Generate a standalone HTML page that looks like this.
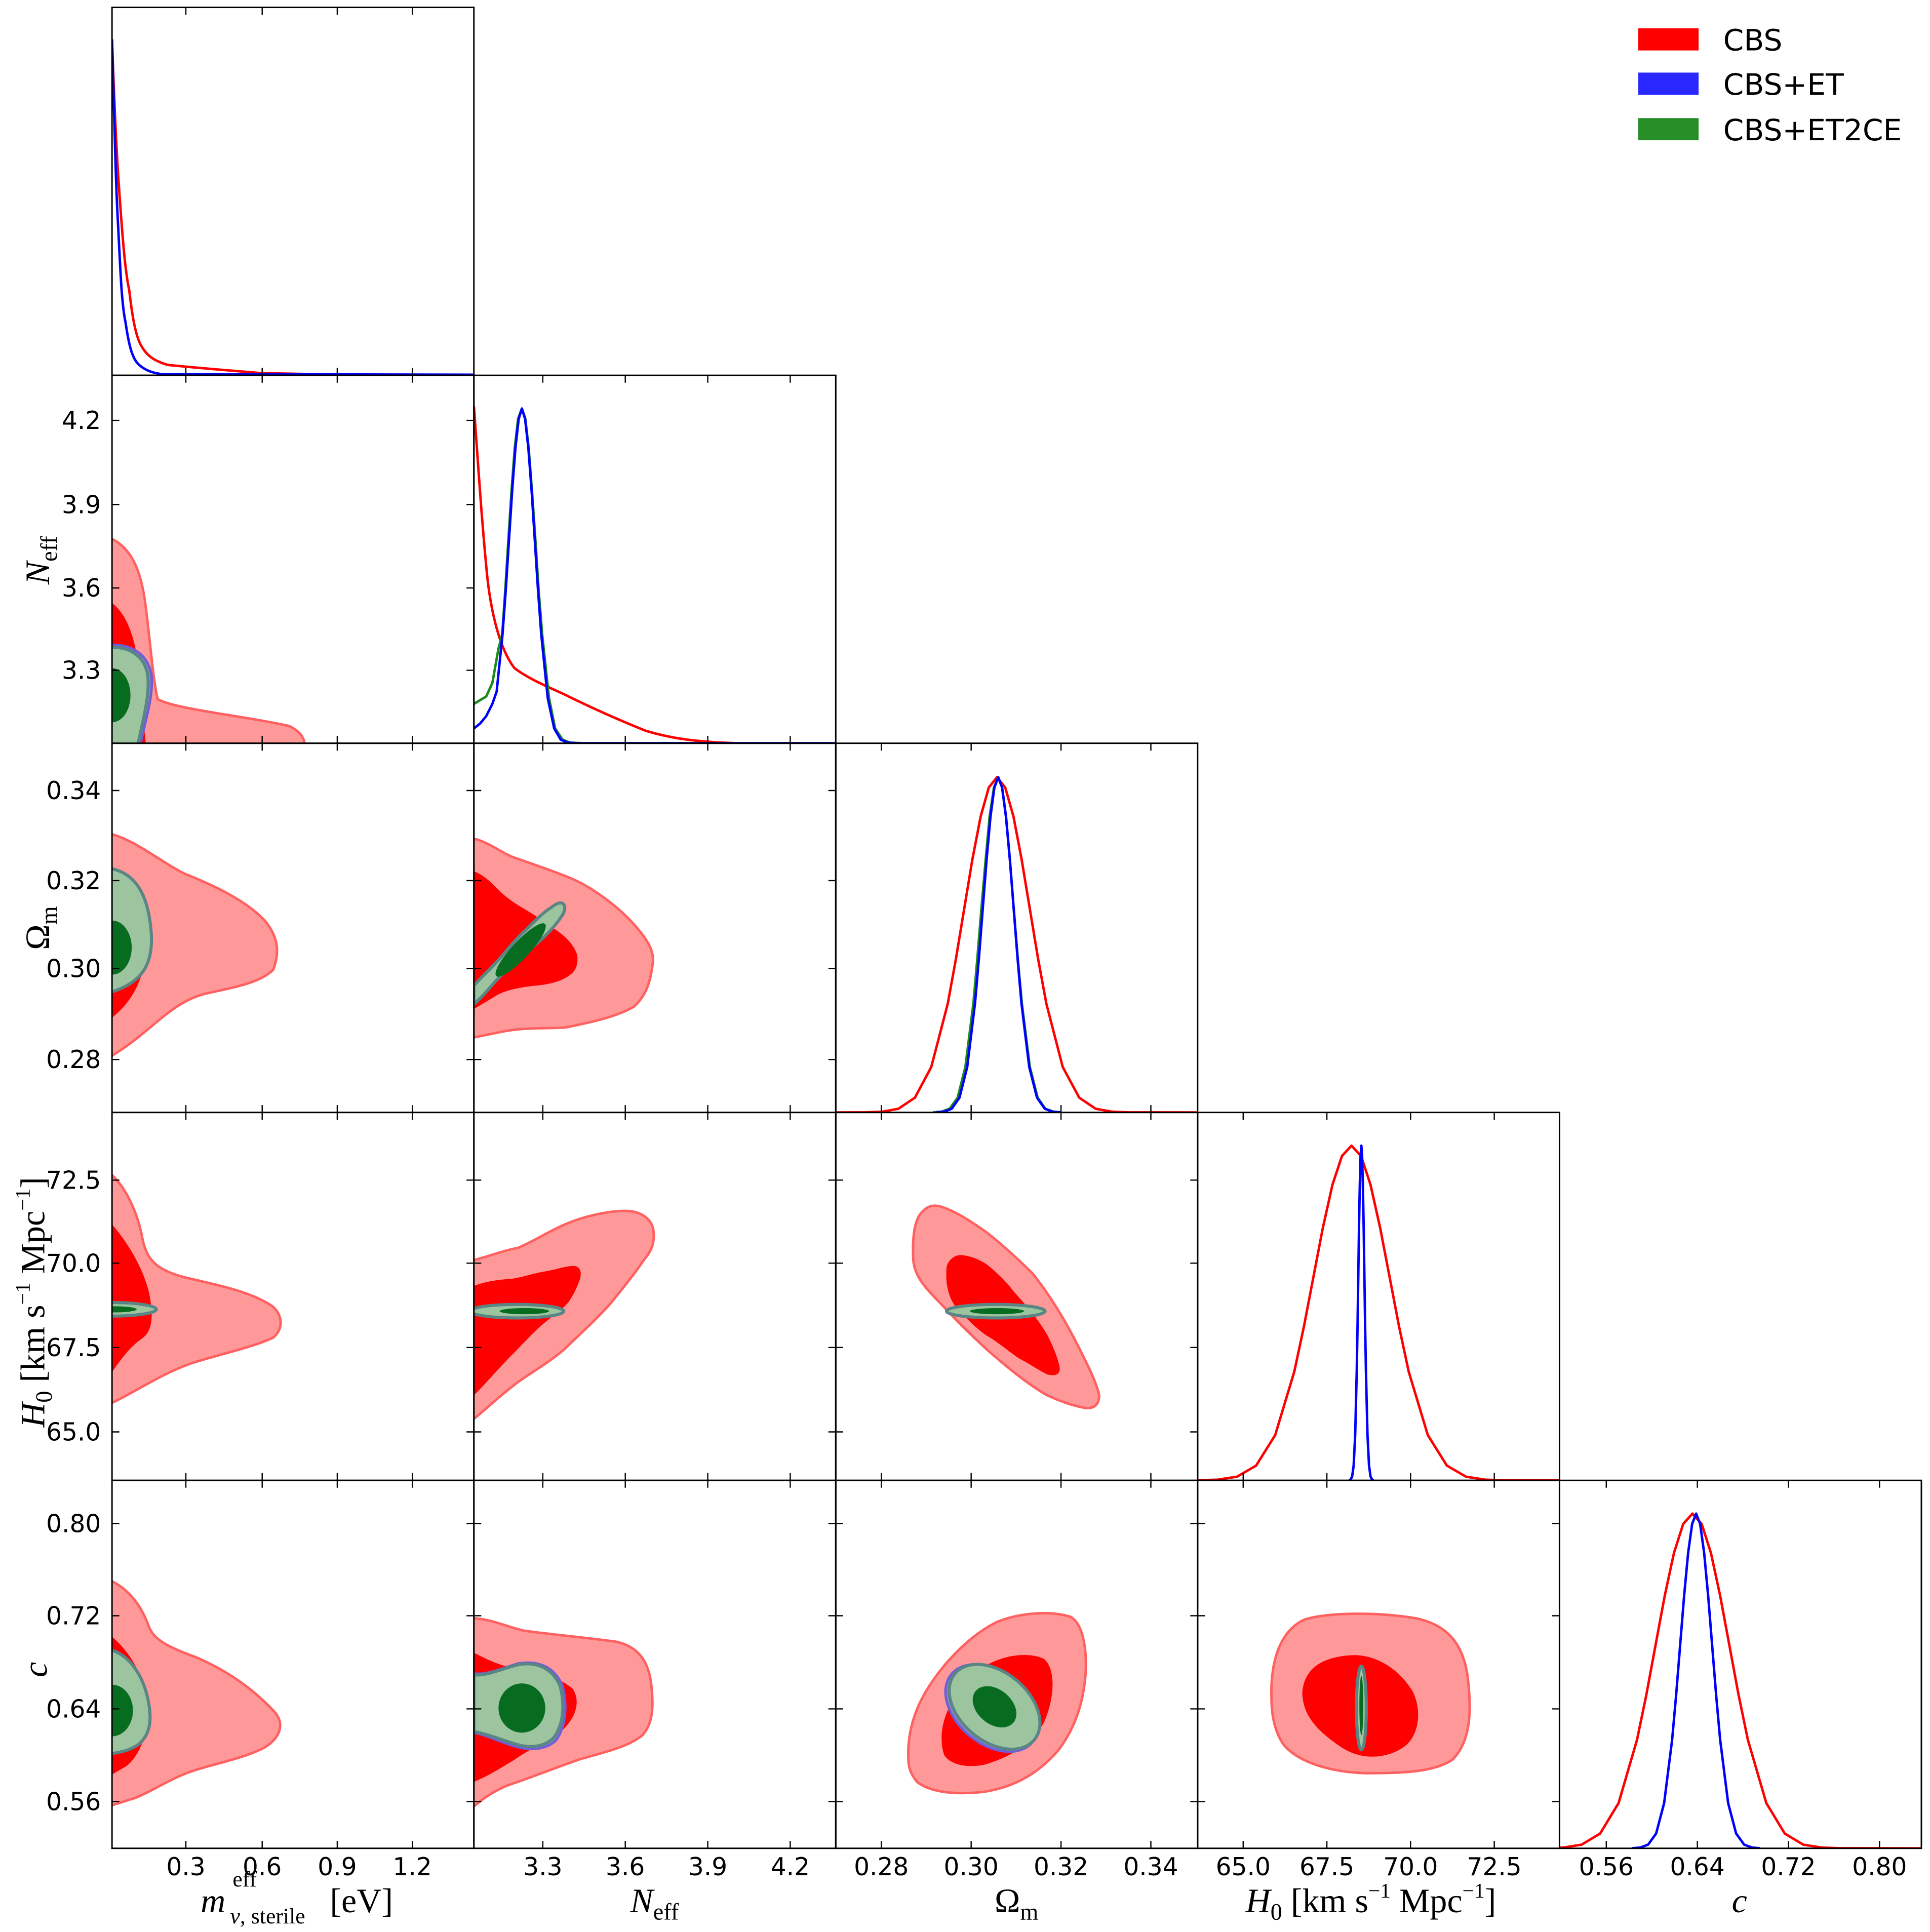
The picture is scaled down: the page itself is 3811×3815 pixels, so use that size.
<!DOCTYPE html>
<html><head><meta charset="utf-8"><style>
html,body{margin:0;padding:0;background:#fff}
svg{display:block}
text{font-family:"DejaVu Sans","Liberation Sans",sans-serif}
text.lab,.lab text{font-family:"Liberation Serif","DejaVu Serif",serif}
</style></head><body>
<svg width="3811" height="3815" viewBox="0 0 1568 1570" preserveAspectRatio="none" xmlns="http://www.w3.org/2000/svg">
<defs>
<clipPath id="p00"><rect x="91" y="6" width="294" height="299"/></clipPath>
<clipPath id="p10"><rect x="91" y="305" width="294" height="299"/></clipPath>
<clipPath id="p11"><rect x="385" y="305" width="294" height="299"/></clipPath>
<clipPath id="p20"><rect x="91" y="604" width="294" height="300"/></clipPath>
<clipPath id="p21"><rect x="385" y="604" width="294" height="300"/></clipPath>
<clipPath id="p22"><rect x="679" y="604" width="294" height="300"/></clipPath>
<clipPath id="p30"><rect x="91" y="904" width="294" height="299"/></clipPath>
<clipPath id="p31"><rect x="385" y="904" width="294" height="299"/></clipPath>
<clipPath id="p32"><rect x="679" y="904" width="294" height="299"/></clipPath>
<clipPath id="p33"><rect x="973" y="904" width="294" height="299"/></clipPath>
<clipPath id="p40"><rect x="91" y="1203" width="294" height="299"/></clipPath>
<clipPath id="p41"><rect x="385" y="1203" width="294" height="299"/></clipPath>
<clipPath id="p42"><rect x="679" y="1203" width="294" height="299"/></clipPath>
<clipPath id="p43"><rect x="973" y="1203" width="294" height="299"/></clipPath>
<clipPath id="p44"><rect x="1267" y="1203" width="294" height="299"/></clipPath>
</defs>
<rect width="1568" height="1570" fill="#fff"/>

<g fill="none" stroke-width="2" stroke-linejoin="round">
<g clip-path="url(#p00)">
<path d="M91,32 C93,90 95,130 97,157 C100,200 102,222 105,236 C108,262 111,276 116,283 C121,291 128,294 136,296.5 C160,299 185,301 210,303 C260,304.5 320,305 385,305" stroke="#ff0000"/>
<path d="M91,32 C93,100 94,150 96,184 C98,225 99,248 102,262 C105,283 108,292 113,296.5 C118,301 124,303 131,304 L385,304.5" stroke="#0000ff"/>
</g>
<g clip-path="url(#p11)">
<path d="M385,330 C388,370 391,420 396,470 C400,505 408,530 418,543 C430,552 445,558 460,565 C480,575 505,586 525,594 C545,600 565,603 600,604 L679,604" stroke="#ff0000"/>
<polyline stroke="#1a8a1a" points="385,572 390,569 395,566 400,555 405,527 408,515.7 410.5,479.5 413,439 415.6,398.7 418.2,364 420.9,340.4 424,332 426.8,340.4 429.5,364 432.2,398.7 435,439 437.6,479.5 440.5,515.7 446,567 451,592 457,601 463,603.5 475,604 679,604"/>
<polyline stroke="#0000ff" points="385,592 390,588 395,582 400,572 403.5,562 408.25,515.7 410.9,479.5 413.5,439 416.1,398.7 418.75,364 421.4,340.4 424,332 426.6,340.4 429.25,364 431.9,398.7 434.5,439 437.1,479.5 439.75,515.7 445,567.2 450.25,592 455.5,601 461,603.4 470,604 679,604"/>
</g>
<g clip-path="url(#p22)">
<polyline stroke="#ff0000" points="679,904 703.2,903.9 716.6,903.4 729.9,901 743.3,892 756.6,867.1 770,815.6 776.6,779.3 783.3,738.8 790,698.4 796.7,663.6 803.3,640 810,631.6 816.7,640 823.4,663.6 830,698.4 836.7,738.8 843.4,779.3 850.1,815.6 863.4,867.1 876.8,892 890.1,901 903.5,903.4 916.8,903.9 973,904"/>
<polyline stroke="#1a8a1a" points="758,903.9 765,903.4 771.5,901 778,892 784.3,867.1 790.8,815.6 794,779.3 797.3,738.8 800.8,698.4 804,663.6 807.5,640 811,631.6 814.15,640 817.3,663.6 820.45,698.4 823.6,738.8 826.9,779.3 830.2,815.6 836.7,867.1 843,892 849.3,901 856,903.4 862,903.9"/>
<polyline stroke="#0000ff" points="760.6,903.9 766.9,903.4 773.2,901 779.5,892 785.8,867.1 792.1,815.6 795.25,779.3 798.4,738.8 801.55,698.4 804.7,663.6 807.85,640 811,631.6 814.15,640 817.3,663.6 820.45,698.4 823.6,738.8 826.75,779.3 829.9,815.6 836.2,867.1 842.5,892 848.8,901 855.1,903.4 861.4,903.9"/>
</g>
<g clip-path="url(#p33)">
<polyline stroke="#ff0000" points="973,1203 974,1202.9 989.5,1202.4 1005,1200 1020.5,1191 1036,1166.2 1051.5,1114.7 1059.25,1078.5 1067,1038 1074.75,997.7 1082.5,962.9 1090.25,939.4 1098,931 1105.75,939.4 1113.5,962.9 1121.25,997.7 1129,1038 1136.75,1078.5 1144.5,1114.7 1160,1166.2 1175.5,1191 1191,1200 1206.5,1202.4 1222,1202.9 1267,1203"/>
<polyline stroke="#0000ff" points="1096,1202.9 1097.25,1202.4 1098.5,1200 1099.75,1191 1101,1166.2 1102.25,1114.7 1102.9,1078.5 1103.5,1038 1104.1,997.7 1104.75,962.9 1105.4,939.4 1106,931 1106.6,939.4 1107.25,962.9 1107.9,997.7 1108.5,1038 1109.1,1078.5 1109.75,1114.7 1111,1166.2 1112.25,1191 1113.5,1200 1114.75,1202.4 1116,1202.9"/>
</g>
<g clip-path="url(#p44)">
<polyline stroke="#ff0000" points="1255,1501.9 1270,1501.4 1285,1499 1300,1490 1315,1465.2 1330,1413.7 1337.5,1377.5 1345,1337 1352.5,1296.7 1360,1261.9 1367.5,1238.4 1375,1230 1382.5,1238.4 1390,1261.9 1397.5,1296.7 1405,1337 1412.5,1377.5 1420,1413.7 1435,1465.2 1450,1490 1465,1499 1480,1501.4 1495,1501.9 1561,1502"/>
<polyline stroke="#0000ff" points="1326,1501.9 1332.5,1501.4 1339,1499 1345.5,1490 1352,1465.2 1358.5,1413.7 1361.75,1377.5 1365,1337 1368.25,1296.7 1371.5,1261.9 1374.75,1238.4 1378,1230 1381.25,1238.4 1384.5,1261.9 1387.75,1296.7 1391,1337 1394.25,1377.5 1397.5,1413.7 1404,1465.2 1410.5,1490 1417,1499 1423.5,1501.4 1430,1501.9"/>
</g>
</g>

<g stroke-linejoin="round">
<g clip-path="url(#p10)">
<path d="M80,438 L91,438 C105,445 114,460 118,490 C122,520 124,550 128,568 C140,576 200,582 235,590 C245,595 248,600 248,610 L80,610 Z" fill="#ff9999" stroke="#ff6060" stroke-width="2"/>
<path d="M80,490 L91,490 C104,500 110,520 113,545 C115,570 117,590 119,610 L80,610 Z" fill="#ff0000"/>
<path d="M80,524 L91,524 C108,524 120,532 123,548 C125,566 118,585 113,610 L80,610 Z" fill="#8f87c8" stroke="#6f5fd6" stroke-width="2"/>
<path d="M80,526 L91,526 C106,526 117,533 120,548 C122,566 116,585 111,610 L80,610 Z" fill="#9cc49f" stroke="#5a8585" stroke-width="2.5"/>
<ellipse cx="91" cy="565" rx="15" ry="22" fill="#076b20"/>
</g>
<g clip-path="url(#p20)">
<path d="M80,678 L91,678 C110,683 130,700 150,710 C175,720 200,732 215,748 C225,760 228,772 222,788 C210,800 185,803 165,808 C140,815 125,835 100,852 L91,858 L80,858 Z" fill="#ff9999" stroke="#ff6060" stroke-width="2"/>
<path d="M80,713 L91,713 C106,725 117,745 118,768 C119,790 110,812 91,827 L80,827 Z" fill="#ff0000"/>
<path d="M80,706 L91,706 C110,710 121,727 123,760 C124,783 116,798 91,806 L80,806 Z" fill="#9cc49f" stroke="#5a8585" stroke-width="2.5"/>
<ellipse cx="91" cy="770" rx="16" ry="22" fill="#076b20"/>
</g>
<g clip-path="url(#p21)">
<path d="M375,682 L387,682 C400,686 410,695 421,698 C435,703 450,708 462,713 C480,720 505,738 520,757 C528,767 532,775 530,785 C528,800 524,810 515,818 C505,824 490,829 459,835 C440,836 425,835 410,838 L385,843 L375,843 Z" fill="#ff9999" stroke="#ff6060" stroke-width="2"/>
<path d="M375,708 L385,708 C398,713 405,725 413,730 C420,736 430,740 440,748 C452,756 464,762 469,776 C470,785 467,790 462,793 C455,798 445,800 435,801 C425,802 413,804 405,808 L385,820 L375,820 Z" fill="#ff0000"/>
<path d="M385,801 C393,792 400,786 405,780 C413,771 420,762 428,755 C436,747 442,741 447,738 C451,735 454,733 457,734 C460,736 459,741 456,745 C452,751 446,758 438,765 C428,774 417,782 402,798 C395,806 390,812 385,816 Z" fill="#9cc49f" stroke="#5a8585" stroke-width="2.5"/>
<ellipse cx="423" cy="772" rx="29" ry="7" transform="rotate(-47 423 772)" fill="#076b20"/>
</g>
<g clip-path="url(#p30)">
<path d="M80,955 L91,955 C102,965 112,985 116,1008 C120,1025 128,1032 150,1038 C180,1045 205,1050 222,1062 C230,1070 230,1080 222,1087 C205,1095 180,1100 155,1108 C130,1117 112,1130 91,1140 L80,1140 Z" fill="#ff9999" stroke="#ff6060" stroke-width="2"/>
<path d="M80,995 L91,995 C104,1010 116,1030 121,1050 C125,1070 124,1082 115,1088 C105,1095 98,1105 91,1115 L80,1115 Z" fill="#ff0000"/>
<ellipse cx="91" cy="1064" rx="36" ry="5.5" fill="#9cc49f" stroke="#5a8585" stroke-width="2.5"/>
<ellipse cx="93" cy="1064" rx="18" ry="2.5" fill="#076b20"/>
</g>
<g clip-path="url(#p31)">
<path d="M375,1024 L385,1024 C400,1020 410,1016 421,1014 C435,1008 447,1000 459,995 C475,988 495,984 508,984 C520,984 530,990 531,1001 C532,1012 528,1018 523,1024 C515,1036 505,1048 497,1058 C485,1072 470,1085 459,1096 C445,1108 432,1115 421,1123 C405,1135 395,1145 385,1153 L375,1153 Z" fill="#ff9999" stroke="#ff6060" stroke-width="2"/>
<path d="M375,1045 L385,1045 C395,1041 405,1040 417,1039 C428,1037 436,1034 444,1033 C455,1031 462,1028 468,1029 C473,1031 472,1037 471,1040 C468,1048 466,1052 462,1058 C455,1066 448,1070 440,1077 C432,1084 425,1092 417,1100 C405,1112 395,1124 385,1134 L375,1134 Z" fill="#ff0000"/>
<ellipse cx="420" cy="1065.5" rx="38" ry="5.5" fill="#9cc49f" stroke="#5a8585" stroke-width="2.5"/>
<ellipse cx="426" cy="1065.5" rx="20" ry="2.5" fill="#076b20"/>
</g>
<g clip-path="url(#p32)">
<path d="M742,1024 C741,1005 743,990 750,984 C755,979 760,979 766,981 C780,986 792,995 801,1001 C815,1012 828,1024 839,1035 C855,1055 867,1076 877,1096 C885,1112 891,1124 893,1134 C893,1143 887,1145 881,1144 C870,1142 860,1138 851,1134 C835,1125 817,1110 801,1096 C788,1084 775,1071 763,1058 C752,1047 743,1037 742,1024 Z" fill="#ff9999" stroke="#ff6060" stroke-width="2"/>
<path d="M769,1030 C770,1024 776,1019 782,1020 C790,1021 796,1024 801,1027 C810,1034 818,1042 824,1050 C835,1062 844,1073 851,1085 C856,1095 860,1105 861,1112 C861,1118 856,1118 851,1117 C843,1113 836,1108 828,1104 C818,1097 810,1090 801,1085 C790,1077 782,1068 775,1060 C770,1052 768,1042 769,1030 Z" fill="#ff0000"/>
<ellipse cx="809" cy="1065.5" rx="40" ry="5.5" fill="#9cc49f" stroke="#5a8585" stroke-width="2.5"/>
<ellipse cx="810" cy="1065.5" rx="22" ry="2.5" fill="#076b20"/>
</g>
<g clip-path="url(#p40)">
<path d="M80,1285 L91,1285 C105,1292 115,1305 121,1322 C125,1332 135,1338 160,1347 C185,1358 205,1372 222,1390 C232,1400 228,1412 215,1420 C200,1428 180,1432 160,1438 C140,1444 125,1455 110,1461 C100,1464 95,1466 91,1467 L80,1467 Z" fill="#ff9999" stroke="#ff6060" stroke-width="2"/>
<path d="M80,1330 L91,1330 C105,1342 116,1360 119,1380 C122,1405 115,1425 103,1435 L91,1442 L80,1442 Z" fill="#ff0000"/>
<path d="M80,1341 L91,1341 C106,1346 116,1362 120,1380 C124,1398 122,1410 112,1418 C104,1423 97,1424 91,1425 L80,1425 Z" fill="#9cc49f" stroke="#5a8585" stroke-width="2.5"/>
<ellipse cx="91" cy="1390" rx="17" ry="21" fill="#076b20"/>
</g>
<g clip-path="url(#p41)">
<path d="M375,1315 L385,1315 C400,1316 412,1322 425,1325 C445,1328 470,1330 500,1334 C520,1338 527,1352 529,1368 C531,1385 531,1400 522,1410 C510,1420 490,1424 470,1430 C450,1437 430,1445 412,1451 C400,1456 392,1462 385,1468 L375,1468 Z" fill="#ff9999" stroke="#ff6060" stroke-width="2"/>
<path d="M375,1343 L385,1343 C398,1350 410,1355 425,1357 C440,1358 455,1364 465,1372 C472,1382 468,1395 458,1405 C448,1414 432,1420 418,1430 C405,1438 395,1444 385,1448 L375,1448 Z" fill="#ff0000"/>
<path d="M385,1360 C395,1361 405,1357 420,1352 C435,1349 450,1353 457,1370 C461,1385 460,1402 452,1414 C444,1422 430,1423 418,1419 C405,1415 395,1410 385,1408 Z" fill="#8f87c8" stroke="#6f5fd6" stroke-width="2"/>
<path d="M385,1361 C395,1362 405,1357 420,1353 C434,1350 448,1354 455,1370 C459,1385 458,1401 450,1412 C442,1420 430,1421 418,1417 C405,1413 395,1409 385,1407 Z" fill="#9cc49f" stroke="#5a8585" stroke-width="2.5"/>
<ellipse cx="424" cy="1388" rx="19" ry="20" fill="#076b20"/>
</g>
<g clip-path="url(#p42)">
<path d="M738,1430 C737,1410 742,1390 755,1370 C770,1347 790,1328 810,1318 C830,1310 855,1309 870,1314 C880,1320 883,1340 882,1360 C880,1385 873,1405 860,1422 C845,1440 825,1452 800,1456 C775,1459 755,1456 745,1448 C740,1442 738,1436 738,1430 Z" fill="#ff9999" stroke="#ff6060" stroke-width="2"/>
<path d="M765,1410 C766,1390 780,1368 800,1354 C815,1345 835,1342 848,1348 C858,1356 857,1380 848,1400 C838,1418 820,1428 800,1434 C785,1437 772,1434 767,1426 C765,1420 765,1415 765,1410 Z" fill="#ff0000"/>
<ellipse cx="806" cy="1388" rx="43" ry="29" transform="rotate(40 806 1388)" fill="#8f87c8" stroke="#6f5fd6" stroke-width="2"/>
<ellipse cx="808" cy="1387" rx="42" ry="28" transform="rotate(40 808 1387)" fill="#9cc49f" stroke="#5a8585" stroke-width="2.5"/>
<ellipse cx="808" cy="1387" rx="20" ry="14" transform="rotate(40 808 1387)" fill="#076b20"/>
</g>
<g clip-path="url(#p43)">
<path d="M1033,1380 C1032,1350 1040,1325 1060,1316 C1080,1310 1120,1310 1150,1315 C1175,1320 1188,1335 1192,1360 C1196,1390 1195,1415 1180,1430 C1165,1440 1140,1441 1110,1441 C1080,1440 1055,1432 1043,1418 C1036,1408 1033,1395 1033,1380 Z" fill="#ff9999" stroke="#ff6060" stroke-width="2"/>
<path d="M1058,1375 C1060,1355 1075,1346 1100,1345 C1120,1345 1138,1358 1148,1375 C1156,1392 1152,1412 1140,1420 C1125,1430 1105,1430 1090,1420 C1072,1408 1058,1395 1058,1375 Z" fill="#ff0000"/>
<ellipse cx="1106" cy="1388" rx="4" ry="34" fill="#9cc49f" stroke="#5a8585" stroke-width="2.5"/>
<ellipse cx="1106" cy="1386" rx="1.6" ry="24" fill="#076b20"/>
</g>
</g>

<g fill="none" stroke="#000" stroke-width="1.2">
<rect x="91" y="6" width="294" height="299"/>
<rect x="91" y="305" width="294" height="299"/>
<rect x="385" y="305" width="294" height="299"/>
<rect x="91" y="604" width="294" height="300"/>
<rect x="385" y="604" width="294" height="300"/>
<rect x="679" y="604" width="294" height="300"/>
<rect x="91" y="904" width="294" height="299"/>
<rect x="385" y="904" width="294" height="299"/>
<rect x="679" y="904" width="294" height="299"/>
<rect x="973" y="904" width="294" height="299"/>
<rect x="91" y="1203" width="294" height="299"/>
<rect x="385" y="1203" width="294" height="299"/>
<rect x="679" y="1203" width="294" height="299"/>
<rect x="973" y="1203" width="294" height="299"/>
<rect x="1267" y="1203" width="294" height="299"/>
</g>
<g stroke="#000" stroke-width="1">
<path d="M151,305v-6M213,305v-6M274,305v-6M335,305v-6M151,6v6M213,6v6M274,6v6M335,6v6
M151,604v-6M213,604v-6M274,604v-6M335,604v-6M151,305v6M213,305v6M274,305v6M335,305v6
M151,904v-6M213,904v-6M274,904v-6M335,904v-6M151,604v6M213,604v6M274,604v6M335,604v6
M151,1203v-6M213,1203v-6M274,1203v-6M335,1203v-6M151,904v6M213,904v6M274,904v6M335,904v6
M151,1502v-6M213,1502v-6M274,1502v-6M335,1502v-6M151,1203v6M213,1203v6M274,1203v6M335,1203v6"/>
<path d="M441,604v-6M508,604v-6M575,604v-6M642,604v-6M441,305v6M508,305v6M575,305v6M642,305v6
M441,904v-6M508,904v-6M575,904v-6M642,904v-6M441,604v6M508,604v6M575,604v6M642,604v6
M441,1203v-6M508,1203v-6M575,1203v-6M642,1203v-6M441,904v6M508,904v6M575,904v6M642,904v6
M441,1502v-6M508,1502v-6M575,1502v-6M642,1502v-6M441,1203v6M508,1203v6M575,1203v6M642,1203v6"/>
<path d="M716,904v-6M789,904v-6M862,904v-6M935,904v-6M716,604v6M789,604v6M862,604v6M935,604v6
M716,1203v-6M789,1203v-6M862,1203v-6M935,1203v-6M716,904v6M789,904v6M862,904v6M935,904v6
M716,1502v-6M789,1502v-6M862,1502v-6M935,1502v-6M716,1203v6M789,1203v6M862,1203v6M935,1203v6"/>
<path d="M1010,1203v-6M1078,1203v-6M1146,1203v-6M1214,1203v-6M1010,904v6M1078,904v6M1146,904v6M1214,904v6
M1010,1502v-6M1078,1502v-6M1146,1502v-6M1214,1502v-6M1010,1203v6M1078,1203v6M1146,1203v6M1214,1203v6"/>
<path d="M1305,1502v-6M1379,1502v-6M1453,1502v-6M1527,1502v-6M1305,1203v6M1379,1203v6M1453,1203v6M1527,1203v6"/>
<path d="M91,341.6h6M91,410h6M91,477.8h6M91,544.7h6M385,341.6h-6M385,410h-6M385,477.8h-6M385,544.7h-6"/>
<path d="M91,642.4h6M91,715.6h6M91,787h6M91,861h6M385,642.4h-6M385,715.6h-6M385,787h-6M385,861h-6
M385,642.4h6M385,715.6h6M385,787h6M385,861h6M679,642.4h-6M679,715.6h-6M679,787h-6M679,861h-6"/>
<path d="M91,959h6M91,1026.5h6M91,1095h6M91,1163.6h6M385,959h-6M385,1026.5h-6M385,1095h-6M385,1163.6h-6
M385,959h6M385,1026.5h6M385,1095h6M385,1163.6h6M679,959h-6M679,1026.5h-6M679,1095h-6M679,1163.6h-6
M679,959h6M679,1026.5h6M679,1095h6M679,1163.6h6M973,959h-6M973,1026.5h-6M973,1095h-6M973,1163.6h-6"/>
<path d="M91,1238h6M91,1313h6M91,1388.7h6M91,1464h6M385,1238h-6M385,1313h-6M385,1388.7h-6M385,1464h-6
M385,1238h6M385,1313h6M385,1388.7h6M385,1464h6M679,1238h-6M679,1313h-6M679,1388.7h-6M679,1464h-6
M679,1238h6M679,1313h6M679,1388.7h6M679,1464h6M973,1238h-6M973,1313h-6M973,1388.7h-6M973,1464h-6
M973,1238h6M973,1313h6M973,1388.7h6M973,1464h6M1267,1238h-6M1267,1313h-6M1267,1388.7h-6M1267,1464h-6"/>
</g>

<g font-size="20" text-anchor="middle" fill="#000">
<text x="151" y="1524">0.3</text><text x="213" y="1524">0.6</text><text x="274" y="1524">0.9</text><text x="335" y="1524">1.2</text>
<text x="441" y="1524">3.3</text><text x="508" y="1524">3.6</text><text x="575" y="1524">3.9</text><text x="642" y="1524">4.2</text>
<text x="716" y="1524">0.28</text><text x="789" y="1524">0.30</text><text x="862" y="1524">0.32</text><text x="935" y="1524">0.34</text>
<text x="1010" y="1524">65.0</text><text x="1078" y="1524">67.5</text><text x="1146" y="1524">70.0</text><text x="1214" y="1524">72.5</text>
<text x="1305" y="1524">0.56</text><text x="1379" y="1524">0.64</text><text x="1453" y="1524">0.72</text><text x="1527" y="1524">0.80</text>
</g>
<g font-size="20" text-anchor="end" fill="#000">
<text x="82" y="348.5">4.2</text><text x="82" y="417">3.9</text><text x="82" y="484.8">3.6</text><text x="82" y="551.7">3.3</text>
<text x="82" y="649.4">0.34</text><text x="82" y="722.6">0.32</text><text x="82" y="794">0.30</text><text x="82" y="868">0.28</text>
<text x="82" y="966">72.5</text><text x="82" y="1033.5">70.0</text><text x="82" y="1102">67.5</text><text x="82" y="1170.6">65.0</text>
<text x="82" y="1245">0.80</text><text x="82" y="1320">0.72</text><text x="82" y="1395.7">0.64</text><text x="82" y="1471">0.56</text>
</g>

<g class="lab" fill="#000" font-size="28">
<text x="163" y="1554" font-style="italic">m</text>
<text x="189" y="1533" font-size="18">eff</text>
<text x="187" y="1563" font-size="18"><tspan font-style="italic">ν</tspan>, sterile</text>
<text x="268" y="1554">[eV]</text>
<text x="512" y="1554"><tspan font-style="italic">N</tspan><tspan font-size="19" dy="6">eff</tspan></text>
<text x="808" y="1554">Ω<tspan font-size="19" dy="6">m</tspan></text>
<text x="1012" y="1554"><tspan font-style="italic">H</tspan><tspan font-size="19" dy="6">0</tspan><tspan dy="-6"> [km s</tspan><tspan font-size="17" dy="-12">−1</tspan><tspan dy="12">  Mpc</tspan><tspan font-size="17" dy="-12">−1</tspan><tspan dy="12">]</tspan></text>
<text x="1407" y="1554" font-style="italic">c</text>
<text transform="translate(40,475) rotate(-90)"><tspan font-style="italic">N</tspan><tspan font-size="19" dy="6">eff</tspan></text>
<text transform="translate(40,772) rotate(-90)">Ω<tspan font-size="19" dy="6">m</tspan></text>
<text transform="translate(36,1160) rotate(-90)"><tspan font-style="italic">H</tspan><tspan font-size="19" dy="6">0</tspan><tspan dy="-6"> [km s</tspan><tspan font-size="17" dy="-12">−1</tspan><tspan dy="12">  Mpc</tspan><tspan font-size="17" dy="-12">−1</tspan><tspan dy="12">]</tspan></text>
<text transform="translate(38,1363) rotate(-90)" font-style="italic">c</text>
</g>

<rect x="1331" y="23" width="49" height="18" fill="#ff0000"/>
<rect x="1331" y="59" width="49" height="18" fill="#2828ff"/>
<rect x="1331" y="96" width="49" height="18" fill="#268e26"/>
<g font-size="24" fill="#000">
<text x="1400" y="41">CBS</text>
<text x="1400" y="77">CBS+ET</text>
<text x="1400" y="114">CBS+ET2CE</text>
</g>
</svg>
</body></html>
